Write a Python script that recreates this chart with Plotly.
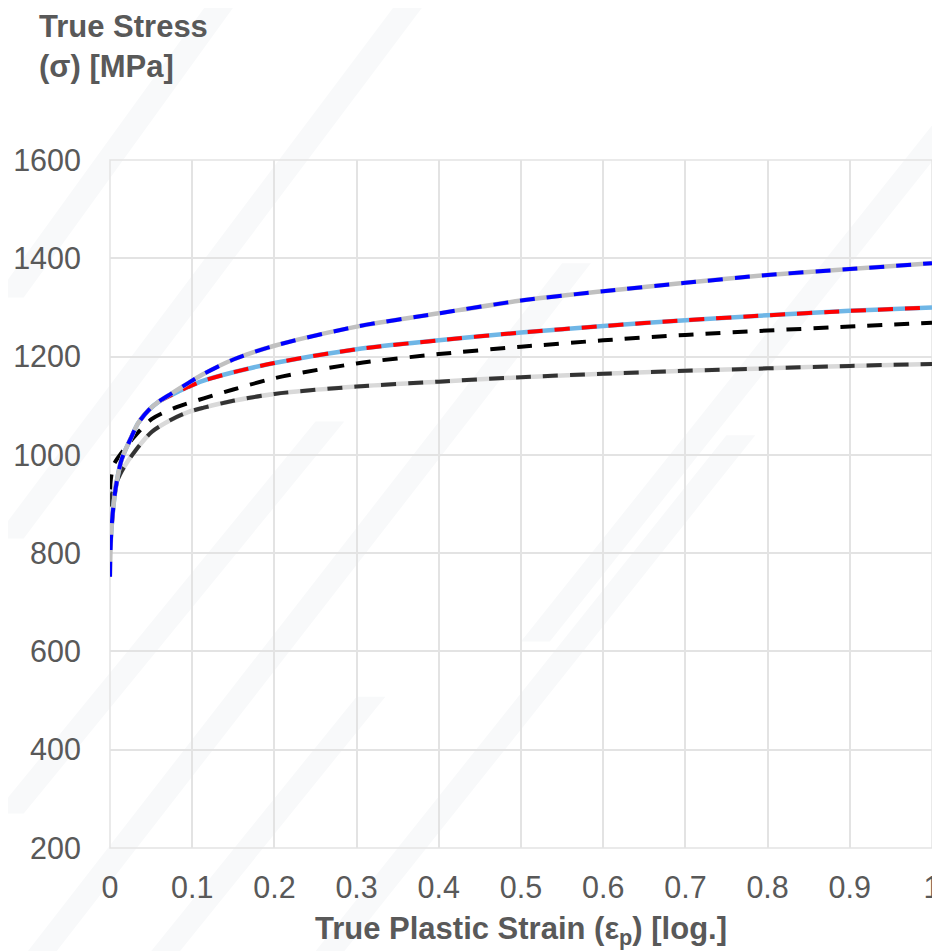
import plotly.graph_objects as go

# ---- data ----
x_top = [0, 0.0005, 0.002, 0.006, 0.014, 0.026, 0.034, 0.047, 0.059, 0.075, 0.095, 0.112,
         0.15, 0.2, 0.3, 0.4, 0.5, 0.6, 0.7, 0.8, 0.9, 1.0]
y_top = [752, 800, 854, 922, 990, 1036, 1064, 1091, 1108, 1125, 1146, 1163,
         1194, 1222, 1261, 1288, 1314, 1333, 1350, 1366, 1378, 1390]

x_mid = [0, 0.002, 0.006, 0.014, 0.026, 0.034, 0.047, 0.059, 0.075, 0.095, 0.112,
         0.15, 0.2, 0.3, 0.4, 0.5, 0.6, 0.7, 0.8, 0.9, 1.0]
y_mid = [805, 854, 922, 990, 1036, 1064, 1091, 1108, 1122, 1138, 1150,
         1168, 1187, 1215, 1233, 1249, 1262, 1274, 1284, 1293, 1300]

x_blk = [0, 0.001, 0.004, 0.01, 0.028, 0.051, 0.081, 0.114, 0.15, 0.2,
         0.3, 0.4, 0.5, 0.6, 0.7, 0.8, 0.9, 1.0]
y_blk = [930, 950, 978, 995, 1034, 1073, 1097, 1115, 1133, 1156,
         1186, 1205, 1220, 1233, 1244, 1253, 1261, 1269]

x_low = [0, 0.002, 0.014, 0.032, 0.051, 0.075, 0.095, 0.114, 0.15, 0.2,
         0.3, 0.4, 0.5, 0.6, 0.7, 0.8, 0.9, 1.0]
y_low = [895, 918, 966, 1011, 1047, 1072, 1087, 1096, 1110, 1124,
         1139, 1149, 1158, 1165, 1171, 1176, 1181, 1185]

x_ticks = [0, 0.1, 0.2, 0.3, 0.4, 0.5, 0.6, 0.7, 0.8, 0.9, 1]
x_tick_text = ["0", "0.1", "0.2", "0.3", "0.4", "0.5", "0.6", "0.7", "0.8", "0.9", "1"]
y_ticks = [200, 400, 600, 800, 1000, 1200, 1400, 1600]

DASH = "15px,12px"
W = 4

fig = go.Figure()

def add(x, y, color, dash=None, width=W):
    fig.add_trace(go.Scatter(
        x=x, y=y, mode="lines",
        line=dict(color=color, width=width, dash=dash, shape="spline", smoothing=0.8),
        hoverinfo="skip", showlegend=False))

# bottom curve: light gray solid + dark gray dashed
add(x_low, y_low, "#D9D9D9", width=4.5)
add(x_low, y_low, "#333333", DASH)
# black dashed
add(x_blk, y_blk, "#000000", DASH)
# middle curve: light blue solid + red dashed
add(x_mid, y_mid, "#6FB6E6", width=4.5)
add(x_mid, y_mid, "#FF0000", DASH)
# top curve: gray solid + blue dashed
add(x_top, y_top, "#C0C0C0", width=4.5)
add(x_top, y_top, "#0000FF", DASH)

# faint diagonal watermark bands
bands = [(-0.14, 0.80, 0.12, 1.23), (-0.14, 0.45, 0.35, 1.23), (-0.14, 0.05, 0.25, 0.62),
         (-0.10, -0.15, 0.55, 0.85), (0.25, -0.15, 0.75, 0.60), (0.50, 0.30, 1.0, 1.05),
         (0.05, -0.15, 0.30, 0.22)]
shapes = []
for (x0, y0, x1, y1) in bands:
    d = 0.035
    shapes.append(dict(type="path", xref="paper", yref="paper", layer="below",
                       path=f"M {x0} {y0} L {x1} {y1} L {x1 + d} {y1} L {x0 + d} {y0} Z",
                       fillcolor="#F8F9FA", line=dict(width=0)))
shapes.append(dict(type="rect", xref="paper", yref="paper", x0=0, y0=0, x1=1, y1=1,
                   line=dict(color="#E3E3E3", width=1.5), layer="below"))

# the page body adds an 8px offset; margins compensate for it
fig.update_layout(
    width=940, height=951,
    margin=dict(l=102, r=16, t=152, b=111, autoexpand=False),
    paper_bgcolor="rgba(0,0,0,0)",
    plot_bgcolor="rgba(0,0,0,0)",
    font=dict(family="Liberation Sans, Arial, sans-serif", color="#595959", size=30),
    shapes=shapes,
    annotations=[dict(
        text="<b>True Stress<br>(σ) [MPa]</b>", xref="paper", yref="paper",
        x=-0.089, y=1.222, xanchor="left", yanchor="top", align="left", showarrow=False,
        font=dict(size=31, color="#595959"))],
)
fig.update_xaxes(
    range=[0, 1], tickvals=x_ticks, ticktext=x_tick_text, automargin=False,
    showgrid=True, gridcolor="#E3E3E3", gridwidth=1.5,
    zeroline=False, showline=False, ticks="", ticklabelstandoff=18,
    tickfont=dict(size=30.5),
    title=dict(text="<b>True Plastic Strain (ε<sub>p</sub>) [log.]</b>", standoff=14,
               font=dict(size=31, color="#595959")),
)
fig.update_yaxes(
    range=[200, 1600], tickvals=y_ticks, automargin=False,
    showgrid=True, gridcolor="#E3E3E3", gridwidth=1.5,
    zeroline=False, showline=False, ticks="", ticklabelstandoff=28,
    tickfont=dict(size=30.5),
)

fig.write_html("out.html")
